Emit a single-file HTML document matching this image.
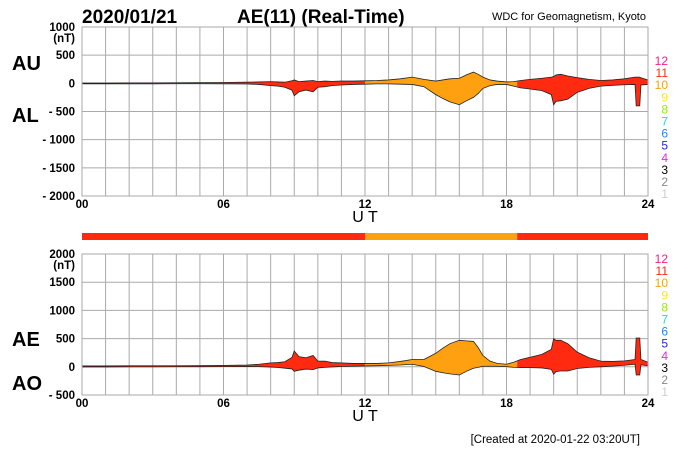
<!DOCTYPE html>
<html><head><meta charset="utf-8"><style>
body{margin:0;background:#fff;}
svg text{font-family:"Liberation Sans",Arial,sans-serif;}
</style></head><body>
<svg id="chart" width="700" height="450" xmlns="http://www.w3.org/2000/svg">
<text x="82" y="23" font-size="19" font-weight="bold">2020/01/21</text>
<text x="237" y="23" font-size="19" font-weight="bold">AE(11) (Real-Time)</text>
<text x="646" y="20" font-size="11" text-anchor="end">WDC for Geomagnetism, Kyoto</text>
<text x="12" y="70" font-size="20" font-weight="bold">AU</text>
<text x="12" y="122" font-size="20" font-weight="bold">AL</text>
<text x="12" y="346" font-size="20" font-weight="bold">AE</text>
<text x="12" y="390" font-size="20" font-weight="bold">AO</text>
<text x="640" y="443" font-size="11.5" text-anchor="end">[Created at 2020-01-22 03:20UT]</text>
<g id="top"></g>
<g id="bot"></g>
<g id="bar"></g>
</svg>
<script>
const hours=[0,1,2,3,4,5,6,7,7.5,8,8.3,8.6,8.9,9.0,9.2,9.5,9.8,10,10.3,10.6,11,11.5,12,12.5,13,13.5,14,14.5,15,15.3,15.6,16,16.3,16.6,16.8,17,17.3,17.6,18,18.3,18.6,19,19.5,19.9,20.0,20.1,20.3,20.6,21,21.5,22,22.5,23,23.45,23.5,23.65,23.7,24];
const auValues=[5,5,8,8,10,12,15,20,25,30,25,20,45,60,30,40,50,30,40,35,40,40,45,50,60,80,110,70,40,60,80,90,150,200,160,110,60,40,25,30,50,70,90,110,120,150,160,130,100,70,50,60,80,110,110,110,100,60];
const alValues=[-10,-10,-10,-10,-8,-8,-10,-12,-20,-40,-50,-70,-120,-220,-150,-120,-150,-70,-60,-40,-30,-20,-15,-10,-10,-15,-20,-60,-200,-270,-330,-380,-310,-250,-180,-90,-40,-20,-20,-50,-80,-100,-130,-200,-380,-320,-310,-280,-160,-90,-50,-35,-25,-20,-400,-400,-30,-20];
const redSegments=[[0,12],[18.45,24]];
const orangeSegments=[[12,18.45]];
const topTicks=["1000","500","0","- 500","- 1000","- 1500","- 2000"];
const topTickVals=[1000,500,0,-500,-1000,-1500,-2000];
const botTicks=["2000","1500","1000","500","0","- 500"];
const botTickVals=[2000,1500,1000,500,0,-500];
const xTicks=["00","06","12","18","24"];
const xTickVals=[0,6,12,18,24];
const legendLabels=["12","11","10","9","8","7","6","5","4","3","2","1"];
const legendColors=["#ff1a8c","#ff2a10","#ffa000","#ffee00","#99ee00","#22ddcc","#1e88ff","#2222ee","#ee22ee","#000000","#888888","#cccccc"];

const NS="http://www.w3.org/2000/svg";
const X0=82,X1=648;
const xs=h=>X0+(X1-X0)*h/24;
function mk(tag,attrs,parent){const e=document.createElementNS(NS,tag);for(const k in attrs)e.setAttribute(k,attrs[k]);parent.appendChild(e);return e;}

function panel(g,id,yTop,yBot,vMax,vMin,ticks,tickVals,upper,lower,legTop){
  const ys=v=>yTop+(vMax-v)/(vMax-vMin)*(yBot-yTop);
  for(let h=0;h<=24;h++){const l=mk('line',{x1:xs(h),x2:xs(h),y1:yTop,y2:yBot,stroke:'#aaa','stroke-width':1},g);
    
    }
  tickVals.forEach((v,i)=>{const l=mk('line',{x1:X0,x2:X1,y1:ys(v),y2:ys(v),stroke:'#aaa','stroke-width':1},g);
    
    
    const t=mk('text',{x:75,y:ys(v)+4,'font-size':11.5,'font-weight':'bold','text-anchor':'end'},g);t.textContent=ticks[i];
    
    });
  const nt=mk('text',{x:75,y:ys(tickVals[0])+15,'font-size':11.5,'font-weight':'bold','text-anchor':'end'},g);nt.textContent="(nT)";
  
  
  let d="M"+hours.map((h,i)=>xs(h)+","+ys(upper[i])).join(" L")+" L"+hours.map((h,i)=>xs(h)+","+ys(lower[i])).reverse().join(" L")+"Z";
  const segs=[[redSegments,'#ff2a10'],[orangeSegments,'#ffa010']];
  segs.forEach(([sg,col])=>sg.forEach(s=>{
    const cid=id+'c'+s[0];
    const cp=mk('clipPath',{id:cid},g);mk('rect',{x:xs(s[0]),y:yTop,width:xs(s[1])-xs(s[0]),height:yBot-yTop},cp);
    const p=mk('path',{d:d,fill:col,'clip-path':'url(#'+cid+')'},g);
    
    }));
  [upper,lower].forEach(arr=>{const p=mk('polyline',{points:hours.map((h,i)=>xs(h)+","+ys(arr[i])).join(" "),fill:'none',stroke:'#222','stroke-width':0.8},g);
    
    });
  mk('rect',{x:X0,y:yTop,width:X1-X0,height:yBot-yTop,fill:'none',stroke:'#aaa'},g);
  xTickVals.forEach((h,i)=>{const t=mk('text',{x:xs(h),y:yBot+12,'font-size':11.5,'font-weight':'bold','text-anchor':'middle'},g);t.textContent=xTicks[i];
    
    });
  const ut=mk('text',{x:365,y:yBot+26,'font-size':16,'text-anchor':'middle'},g);ut.textContent="U T";
  
  
  legendLabels.forEach((s,i)=>{const t=mk('text',{x:668,y:legTop+i*12.1,'font-size':12,'text-anchor':'end',fill:legendColors[i]},g);t.textContent=s;
    
    });
}
const ae=auValues.map((u,i)=>u-alValues[i]);
const ao=auValues.map((u,i)=>(u+alValues[i])/2);
panel(document.getElementById('top'),'t',27,196,1000,-2000,topTicks,topTickVals,auValues,alValues,65);
panel(document.getElementById('bot'),'b',254,395,2000,-500,botTicks,botTickVals,ae,ao,263);
const bar=document.getElementById('bar');
[[redSegments,'#ff2a10'],[orangeSegments,'#ffa010']].forEach(([sg,col])=>sg.forEach(s=>{
  const r=mk('rect',{x:xs(s[0]),y:233,width:xs(s[1])-xs(s[0]),height:7,fill:col},bar);
  
  }));
</script>
</body></html>
